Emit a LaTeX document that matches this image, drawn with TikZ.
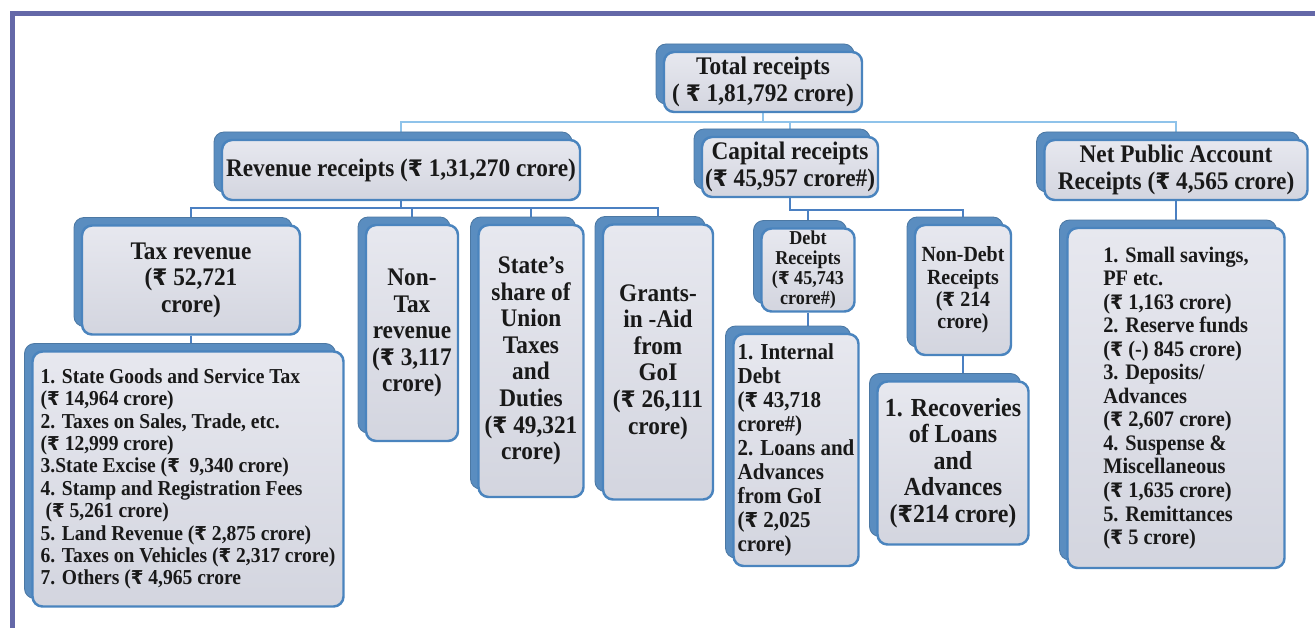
\documentclass[tikz,border=0pt]{standalone}
\usepackage{fontspec}
\setmainfont[FakeStretch=0.92]{Liberation Serif}
\newfontfamily\rsfont[Scale=0.9, FakeStretch=0.95]{DejaVu Sans}
\newcommand{\rs}{{\rsfont ₹}}
\usetikzlibrary{shadows, backgrounds}
\definecolor{bxline}{HTML}{4A84BE}
\definecolor{bxtop}{HTML}{E7E8EF}
\definecolor{bxbot}{HTML}{D3D5DF}
\definecolor{bxshad}{HTML}{5A8DC0}
\definecolor{lkhi}{HTML}{8FC3EA}
\definecolor{lklo}{HTML}{4B80C2}
\definecolor{frm}{HTML}{6468A8}
\tikzset{
  bx/.style = {draw=bxline, line width=1.4pt, rounded corners=0.2cm,
    top color=bxtop, bottom color=bxbot, inner sep=0pt, align=center,
    text=black!90, font=\bfseries\fontsize{14.4}{15.1}\selectfont,
    general shadow={shadow xshift=-0.16cm, shadow yshift=0.16cm,
      fill=bxshad, draw=bxshad!85!black, line width=0.5pt}},
  sz/.style 2 args = {minimum width=#1*0.02cm, minimum height=#2*0.02cm},
  bxl/.style = {bx, align=left},
  lkA/.style = {draw=lkhi, line width=1.3pt},
  lkB/.style = {draw=lklo, line width=1.5pt}
}

\begin{document}
\begin{tikzpicture}[x=0.02cm, y=-0.02cm]
  \useasboundingbox (0,0) rectangle (1315,628);
  \draw [frm, line width=0.1cm] (12.5,628) -- (12.5,13.5) -- (1315,13.5);

  \node [bx, sz={198}{60}] (total) at (763,82) {Total receipts\\( \rs\ 1,81,792 crore)};
  \node [bx, sz={358}{60}] (rev) at (401,170) {Revenue receipts (\rs\ 1,31,270 crore)};
  \node [bx, sz={176}{60}] (cap) at (790,167) {Capital receipts\\(\rs\ 45,957 crore\#)};
  \node [bx, sz={263}{60}] (npa) at (1176,170) {Net Public Account\\Receipts (\rs\ 4,565 crore)};

  \node [bx, sz={218}{109}] (tax) at (191,280) {Tax revenue\\(\rs\ 52,721\\crore)};
  \node [bx, sz={92}{216}] (nontax) at (412,333) {Non-\\Tax\\revenue\\(\rs\ 3,117\\crore)};
  \node [bx, sz={105}{272}] (share) at (531,361) {State’s\\share of\\Union\\Taxes\\and\\Duties\\(\rs\ 49,321\\crore)};
  \node [bx, sz={110}{275}] (grants) at (658,362) {Grants-\\in -Aid\\from\\GoI\\(\rs\ 26,111\\crore)};

  \node [bxl, sz={311}{255}, font=\bfseries\fontsize{12.1}{12.75}\selectfont] (taxlist) at (188,479)
    {1. State Goods and Service Tax\\(\rs\ 14,964 crore)\\2. Taxes on Sales, Trade, etc.\\(\rs\ 12,999 crore)\\3.State Excise (\rs~ 9,340 crore)\\4. Stamp and Registration Fees\\~(\rs\ 5,261 crore)\\5. Land Revenue (\rs\ 2,875 crore)\\6. Taxes on Vehicles (\rs\ 2,317 crore)\\7. Others (\rs\ 4,965 crore};

  \node [bx, sz={93}{83}, font=\bfseries\fontsize{11.2}{11.4}\selectfont] (debt) at (808,270) {Debt\\Receipts\\(\rs\ 45,743\\crore\#)};
  \node [bx, sz={96}{130}, font=\bfseries\fontsize{12.3}{12.7}\selectfont] (nondebt) at (963,290) {Non-Debt\\Receipts\\(\rs\ 214\\crore)};
  \node [bxl, sz={125}{232}, font=\bfseries\fontsize{13}{13.65}\selectfont] (intdebt) at (796,450)
    {1. Internal\\Debt\\(\rs\ 43,718\\crore\#)\\2. Loans and\\Advances\\from GoI\\(\rs\ 2,025\\crore)};
  \node [bx, sz={151}{163}, font=\bfseries\fontsize{14.8}{15.1}\selectfont] (recov) at (953,463)
    {1. Recoveries\\of Loans\\and\\Advances\\(\rs 214 crore)};

  \node [bxl, sz={217}{340}, font=\bfseries\fontsize{12.6}{13.4}\selectfont] (npalist) at (1176,398)
    {1. Small savings,\\PF etc.\\(\rs\ 1,163 crore)\\2. Reserve funds\\(\rs\ (-) 845 crore)\\3. Deposits/\\Advances\\(\rs\ 2,607 crore)\\4. Suspense \&\\Miscellaneous\\(\rs\ 1,635 crore)\\5. Remittances\\(\rs\ 5 crore)};

  \begin{scope}[on background layer]
    \coordinate (b1) at (0,122);
    \coordinate (b2) at (0,208);
    \coordinate (b3) at (0,210);
    \draw [lkA] (total.south) -- (total.south |- b1);
    \draw [lkA] (rev.north) |- (npa.north |- b1) -- (npa.north);
    \draw [lkA] (cap.north |- b1) -- (cap.north);
    \draw [lkB] (rev.south) -- (rev.south |- b2);
    \draw [lkB] (tax.north) |- (grants.north |- b2) -- (grants.north);
    \draw [lkB] (nontax.north |- b2) -- (nontax.north);
    \draw [lkB] (share.north |- b2) -- (share.north);
    \draw [lkB] (cap.south) |- (nondebt.north |- b3) -- (nondebt.north);
    \draw [lkB] (debt.north |- b3) -- (debt.north);
    \draw [lkB] (tax.south) -- (tax.south |- taxlist.north);
    \draw [lkB] (debt.south) -- (debt.south |- intdebt.north);
    \draw [lkB] (nondebt.south) -- (nondebt.south |- recov.north);
    \draw [lkB] (npa.south) -- (npa.south |- npalist.north);
  \end{scope}
\end{tikzpicture}
\end{document}
